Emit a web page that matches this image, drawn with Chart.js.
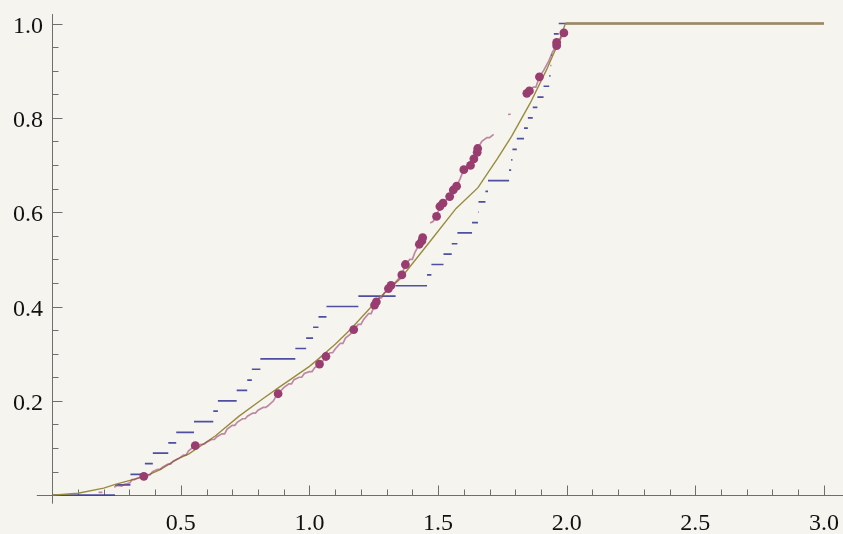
<!DOCTYPE html>
<html>
<head>
<meta charset="utf-8">
<script src="https://cdn.jsdelivr.net/npm/chart.js@4.4.0/dist/chart.umd.min.js"></script>
<style>
  html, body { margin: 0; padding: 0; background: #f5f4ef; }
  #wrap { width: 843px; height: 534px; }
  canvas { background: #f5f4ef; }
  .preload { font-family: "Liberation Serif"; position: absolute; left: -999px; top: -999px; }
</style>
</head>
<body>
<span class="preload">0.5 1.0</span>
<div id="wrap"><canvas id="cdf" width="843" height="534"></canvas></div>
<script>
// Smooth CDF curve (olive)
const curveX = [0, 0.1, 0.2, 0.245, 0.36, 0.42, 0.487, 0.53, 0.635, 0.725, 0.82, 0.88, 1.0, 1.035, 1.1, 1.16, 1.275, 1.355, 1.47, 1.57, 1.655, 1.73, 1.785, 1.858, 1.92, 1.97, 1.995, 3.0];
const curveY = [0, 0.004, 0.015, 0.023, 0.04, 0.054, 0.077, 0.087, 0.126, 0.167, 0.205, 0.228, 0.273, 0.289, 0.32, 0.352, 0.42, 0.46, 0.539, 0.608, 0.652, 0.713, 0.76, 0.831, 0.9, 0.962, 1.0, 1.0];

// Step function (blue): start of each level, last value is the end of the top level
const stepX = [0, 0.244, 0.304, 0.360, 0.391, 0.451, 0.482, 0.551, 0.626, 0.644, 0.717, 0.758, 0.776, 0.809, 0.945, 0.987, 1.014, 1.035, 1.066, 1.190, 1.335, 1.457, 1.474, 1.521, 1.553, 1.575, 1.632, 1.655, 1.657, 1.684, 1.694, 1.776, 1.784, 1.789, 1.806, 1.834, 1.849, 1.868, 1.886, 1.910, 1.932, 1.937, 1.940, 1.945, 1.950, 1.969, 3.0];
const stepLevels = [0, 0.022, 0.044, 0.067, 0.089, 0.111, 0.133, 0.156, 0.178, 0.2, 0.222, 0.244, 0.267, 0.289, 0.311, 0.333, 0.356, 0.378, 0.4, 0.422, 0.444, 0.467, 0.489, 0.511, 0.533, 0.556, 0.578, 0.6, 0.622, 0.644, 0.667, 0.689, 0.711, 0.733, 0.756, 0.778, 0.8, 0.822, 0.844, 0.867, 0.889, 0.911, 0.933, 0.956, 0.978, 1.0];

// Jagged empirical line (purple), null = gap
const purpleX = [0.18, 0.195, null,
  0.241, 0.25, 0.26, 0.27, 0.28, 0.29, 0.302, 0.31, 0.32, 0.33, 0.345, 0.357, 0.37, 0.38, 0.39, 0.41, 0.42, 0.43, 0.45, 0.46, 0.47, 0.49, 0.51, 0.52, 0.53, 0.556, 0.58, 0.59, 0.6, 0.62, 0.63, 0.64, 0.66, 0.67, 0.68, 0.70, 0.71, 0.72, 0.74, 0.75, 0.76, 0.78, 0.79, 0.80, 0.82, 0.83, 0.84, 0.86, 0.87, 0.878, 0.89, 0.90, 0.92, 0.93, 0.94, 0.96, 0.97, 0.98, 1.0, 1.01, 1.02, 1.039, 1.05, 1.064, 1.08, 1.09, 1.10, 1.12, 1.13, 1.14, 1.16, 1.172, 1.19, 1.20, 1.21, 1.23, 1.24, 1.253, 1.27, 1.28, 1.29, 1.307, 1.317, 1.33, 1.34, 1.359, 1.373, 1.39, 1.40, 1.41, 1.427, 1.44, null,
  1.469, 1.48, 1.494, 1.507, 1.519, 1.53, 1.545, 1.559, 1.572, 1.585, 1.6, 1.61, 1.626, 1.639, 1.652, 1.654, 1.67, 1.69, 1.70, 1.716, null,
  1.772, 1.782, null,
  1.845, 1.855, 1.87, 1.88, 1.894, 1.91, 1.93, 1.945, 1.961, 1.97, 1.989, 1.995];
const purpleY = [0.006, 0.006, null,
  0.017, 0.02, 0.02, 0.019, 0.023, 0.024, 0.026, 0.033, 0.033, 0.036, 0.038, 0.04, 0.043, 0.043, 0.05, 0.055, 0.055, 0.06, 0.066, 0.066, 0.072, 0.077, 0.085, 0.085, 0.094, 0.105, 0.108, 0.108, 0.112, 0.118, 0.118, 0.124, 0.13, 0.13, 0.14, 0.148, 0.148, 0.155, 0.162, 0.162, 0.168, 0.174, 0.174, 0.18, 0.186, 0.186, 0.19, 0.2, 0.21, 0.215, 0.222, 0.228, 0.236, 0.236, 0.245, 0.25, 0.25, 0.258, 0.262, 0.262, 0.27, 0.278, 0.283, 0.294, 0.302, 0.302, 0.31, 0.322, 0.322, 0.333, 0.342, 0.351, 0.362, 0.362, 0.372, 0.385, 0.385, 0.403, 0.418, 0.418, 0.428, 0.438, 0.445, 0.449, 0.455, 0.467, 0.489, 0.5, 0.5, 0.515, 0.532, 0.546, null,
  0.577, 0.58, 0.591, 0.612, 0.619, 0.625, 0.633, 0.647, 0.655, 0.67, 0.69, 0.69, 0.699, 0.713, 0.727, 0.735, 0.75, 0.758, 0.758, 0.765, null,
  0.807, 0.808, null,
  0.852, 0.857, 0.865, 0.865, 0.887, 0.9, 0.92, 0.94, 0.953, 0.962, 0.98, 0.985];

// Large purple dots
const dotX = [0.356, 0.556, 0.878, 1.039, 1.064, 1.172, 1.253, 1.26, 1.307, 1.317, 1.359, 1.373, 1.427, 1.437, 1.44, 1.494, 1.507, 1.519, 1.545, 1.559, 1.572, 1.6, 1.626, 1.639, 1.652, 1.654, 1.845, 1.855, 1.894, 1.961, 1.961, 1.989];
const dotY = [0.04, 0.105, 0.215, 0.278, 0.294, 0.351, 0.403, 0.41, 0.438, 0.445, 0.467, 0.489, 0.532, 0.539, 0.546, 0.591, 0.612, 0.619, 0.633, 0.647, 0.655, 0.69, 0.699, 0.713, 0.727, 0.735, 0.852, 0.857, 0.887, 0.953, 0.96, 0.98];

// Axis ticks
const xMajor = [0.5, 1.0, 1.5, 2.0, 2.5, 3.0];
const xLabels = ['0.5', '1.0', '1.5', '2.0', '2.5', '3.0'];
const xMinor = [0.1, 0.2, 0.3, 0.4, 0.6, 0.7, 0.8, 0.9, 1.1, 1.2, 1.3, 1.4, 1.6, 1.7, 1.8, 1.9, 2.1, 2.2, 2.3, 2.4, 2.6, 2.7, 2.8, 2.9];
const yMajor = [0.2, 0.4, 0.6, 0.8, 1.0];
const yLabels = ['0.2', '0.4', '0.6', '0.8', '1.0'];
const yMinor = [0.05, 0.1, 0.15, 0.25, 0.3, 0.35, 0.45, 0.5, 0.55, 0.65, 0.7, 0.75, 0.85, 0.9, 0.95];

const labelFont = '24px "Liberation Serif"';

// Build point lists
const curveData = curveX.map((x, i) => ({ x: x, y: curveY[i] }));
const purpleData = purpleX.map((x, i) => ({ x: x, y: purpleY[i] }));
const dotData = dotX.map((x, i) => ({ x: x, y: dotY[i] }));
const stepData = [];
stepLevels.forEach((lvl, k) => {
    stepData.push({ x: stepX[k], y: lvl }, { x: stepX[k + 1], y: lvl }, { x: stepX[k + 1], y: null });
});

// Mathematica-like axes crossing at the origin
const axesPlugin = {
    id: 'mmaAxes',
    beforeDatasetsDraw(chart) {
        const ctx = chart.ctx;
        const xs = chart.scales.x;
        const ys = chart.scales.y;
        const x0 = Math.round(xs.getPixelForValue(0)) + 0.5;
        const y0 = Math.round(ys.getPixelForValue(0)) + 0.5;

        ctx.save();
        ctx.strokeStyle = '#6e6e6e';
        ctx.lineWidth = 1;
        ctx.beginPath();
        ctx.moveTo(xs.getPixelForValue(-0.06), y0);
        ctx.lineTo(chart.width, y0);
        ctx.moveTo(x0, ys.getPixelForValue(1.02));
        ctx.lineTo(x0, ys.getPixelForValue(-0.018));

        xMajor.forEach(v => {
            const p = Math.round(xs.getPixelForValue(v)) + 0.5;
            ctx.moveTo(p, y0); ctx.lineTo(p, y0 - 10);
        });
        xMinor.forEach(v => {
            const p = Math.round(xs.getPixelForValue(v)) + 0.5;
            ctx.moveTo(p, y0); ctx.lineTo(p, y0 - 6);
        });
        yMajor.forEach(v => {
            const p = Math.round(ys.getPixelForValue(v)) + 0.5;
            ctx.moveTo(x0, p); ctx.lineTo(x0 + 10, p);
        });
        yMinor.forEach(v => {
            const p = Math.round(ys.getPixelForValue(v)) + 0.5;
            ctx.moveTo(x0, p); ctx.lineTo(x0 + 6, p);
        });
        ctx.stroke();

        ctx.fillStyle = '#111';
        ctx.font = labelFont;
        ctx.textBaseline = 'alphabetic';
        ctx.textAlign = 'center';
        xMajor.forEach((v, i) => {
            ctx.fillText(xLabels[i], xs.getPixelForValue(v), 530);
        });
        ctx.textAlign = 'right';
        yMajor.forEach((v, i) => {
            ctx.fillText(yLabels[i], 43, ys.getPixelForValue(v) + 9);
        });
        ctx.restore();
    }
};

function drawChart() {
    new Chart(document.getElementById('cdf').getContext('2d'), {
        type: 'scatter',
        data: {
            datasets: [
                {
                    data: dotData,
                    showLine: false,
                    pointRadius: 4.4,
                    pointBackgroundColor: 'rgb(153,61,113)',
                    pointBorderWidth: 0
                },
                {
                    data: purpleData,
                    showLine: true,
                    spanGaps: false,
                    borderColor: 'rgba(153,61,113,0.6)',
                    borderWidth: 1.7,
                    pointRadius: 0
                },
                {
                    data: curveData,
                    showLine: true,
                    borderColor: 'rgb(153,140,61)',
                    borderWidth: 1.4,
                    pointRadius: 0,
                    // flat top lies over the blue step, shows as a brownish blend
                    segment: {
                        borderColor: c => c.p0.parsed.y >= 1 ? 'rgb(158,136,92)' : undefined,
                        borderWidth: c => c.p0.parsed.y >= 1 ? 2.4 : undefined
                    }
                },
                {
                    data: stepData,
                    showLine: true,
                    spanGaps: false,
                    borderColor: 'rgba(61,61,153,0.9)',
                    borderWidth: 1.7,
                    pointRadius: 0
                }
            ]
        },
        options: {
            responsive: false,
            animation: false,
            devicePixelRatio: 1,
            layout: { padding: 0 },
            plugins: {
                legend: { display: false },
                tooltip: { enabled: false }
            },
            scales: {
                x: { type: 'linear', min: -0.186, max: 3.057, display: false },
                y: { type: 'linear', min: -0.073, max: 1.0405, display: false }
            }
        },
        plugins: [axesPlugin]
    });
}

// wait for the serif font so canvas text uses it
document.fonts.load(labelFont).then(drawChart, drawChart);
</script>
</body>
</html>
